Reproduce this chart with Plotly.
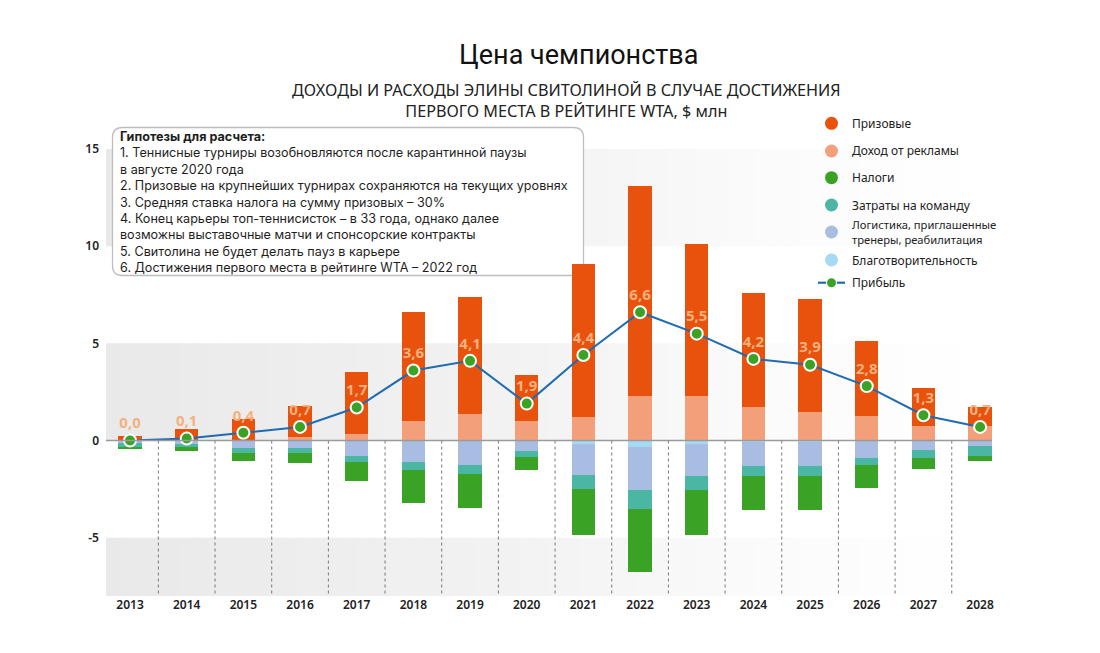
import plotly.graph_objects as go

# ---------------- data ----------------
years = list(range(2013, 2029))
prize = [0.22, 0.60, 1.13, 1.62, 3.21, 5.57, 6.00, 2.36, 7.87, 10.80, 7.83, 5.88, 5.85, 3.87, 1.97, 0.99]
ads = [0.0, 0.0, 0.0, 0.17, 0.34, 1.03, 1.38, 0.99, 1.19, 2.30, 2.30, 1.72, 1.45, 1.26, 0.74, 0.74]
charity = [0, 0, 0, 0, 0, 0, 0, 0, -0.17, -0.34, -0.20, -0.08, -0.06, 0, 0, 0]
logistics = [-0.14, -0.20, -0.38, -0.38, -0.79, -1.10, -1.25, -0.55, -1.62, -2.20, -1.62, -1.22, -1.26, -0.89, -0.48, -0.27]
team = [-0.20, -0.14, -0.26, -0.27, -0.29, -0.41, -0.45, -0.31, -0.70, -1.00, -0.70, -0.51, -0.50, -0.39, -0.43, -0.53]
taxes = [-0.12, -0.22, -0.43, -0.51, -0.99, -1.68, -1.76, -0.65, -2.36, -3.25, -2.36, -1.76, -1.74, -1.16, -0.58, -0.26]
profit = [0.0, 0.1, 0.4, 0.7, 1.7, 3.6, 4.1, 1.9, 4.4, 6.6, 5.5, 4.2, 3.9, 2.8, 1.3, 0.7]
profit_labels = [f"{v:.1f}".replace(".", ",") for v in profit]

y_ticks = [-5, 0, 5, 10, 15]

names = {
    "prize": "Призовые",
    "ads": "Доход от рекламы",
    "taxes": "Налоги",
    "team": "Затраты на команду",
    "logistics": "Логистика, приглашенные<br>тренеры, реабилитация",
    "charity": "Благотворительность",
    "profit": "Прибыль",
}
colors = {
    "prize": "#e8520c",
    "ads": "#f3a07a",
    "taxes": "#3aa325",
    "team": "#4bb6a4",
    "logistics": "#a9bde2",
    "charity": "#a4daf4",
    "line": "#1f6cb0",
    "label": "#f6b07e",
}

title = "Цена чемпионства"
subtitle_lines = ["ДОХОДЫ И РАСХОДЫ ЭЛИНЫ СВИТОЛИНОЙ В СЛУЧАЕ ДОСТИЖЕНИЯ",
                  "ПЕРВОГО МЕСТА В РЕЙТИНГЕ WTA, $ млн"]
notes = [
    "<b>Гипотезы для расчета:</b>",
    "1. Теннисные турниры возобновляются после карантинной паузы",
    "в августе 2020 года",
    "2. Призовые на крупнейших турнирах сохраняются на текущих уровнях",
    "3. Средняя ставка налога на сумму призовых – 30%",
    "4. Конец карьеры топ-теннисисток – в 33 года, однако далее",
    "возможны выставочные матчи и спонсорские контракты",
    "5. Свитолина не будет делать пауз в карьере",
    "6. Достижения первого места в рейтинге WTA – 2022 год",
]

# ---------------- geometry ----------------
W, H = 1100, 653
L, R, T, B = 106, 108, 149, 57
PW, PH = W - L - R, H - T - B
X0, X1 = 2012.576, 2028.21
Y0, Y1 = -8, 15
FONT = "Noto Sans"


def pxx(p):
    return (p - L) / PW


def pxy(p):
    return (H - B - p) / PH


fig = go.Figure()

# bars: positive stack then negative stack
for key, vals in [("ads", ads), ("prize", prize), ("charity", charity),
                  ("logistics", logistics), ("team", team), ("taxes", taxes)]:
    fig.add_trace(go.Bar(
        x=years, y=vals, name=names[key].replace("<br>", " "), width=0.41,
        marker=dict(color=colors[key], line=dict(width=0)),
        showlegend=False, hoverinfo="skip",
    ))

# profit line
fig.add_trace(go.Scatter(
    x=years, y=profit, mode="lines+markers+text", name=names["profit"],
    line=dict(color=colors["line"], width=2),
    marker=dict(color=colors["taxes"], size=12, line=dict(color="white", width=2)),
    text=profit_labels, textposition="top center",
    textfont=dict(family=FONT, size=15, color=colors["label"], weight="bold"),
    showlegend=False,
))

shapes = []
annotations = []


def lerp_color(stops, t):
    for (t0, c0), (t1, c1) in zip(stops[:-1], stops[1:]):
        if t0 <= t <= t1:
            f = 0 if t1 == t0 else (t - t0) / (t1 - t0)
            a = [int(c0[i:i + 2], 16) for i in (1, 3, 5)]
            b = [int(c1[i:i + 2], 16) for i in (1, 3, 5)]
            return "#" + "".join(f"{round(a[k] + (b[k] - a[k]) * f):02x}" for k in range(3))
    return stops[-1][1]


grad = [(0.0, "#e9e9e9"), (0.45, "#f2f2f2"), (0.75, "#fbfbfb"), (1.0, "#ffffff")]
N = 60
for (b0, b1) in [(10, 15), (0, 5), (Y0, -5)]:
    for k in range(N):
        shapes.append(dict(
            type="rect", xref="paper", yref="y", layer="below",
            x0=k / N, x1=(k + 1) / N + 0.002, y0=b0, y1=b1,
            fillcolor=lerp_color(grad, (k + 0.5) / N), line=dict(width=0),
        ))

# rounded note box
bx0, bx1, by0, by1 = pxx(112.5), pxx(583.5), pxy(275.5), pxy(127.5)
rx, ry = 10 / PW, 10 / PH
path = (f"M {bx0 + rx} {by1} L {bx1 - rx} {by1} Q {bx1} {by1} {bx1} {by1 - ry} "
        f"L {bx1} {by0 + ry} Q {bx1} {by0} {bx1 - rx} {by0} "
        f"L {bx0 + rx} {by0} Q {bx0} {by0} {bx0} {by0 + ry} "
        f"L {bx0} {by1 - ry} Q {bx0} {by1} {bx0 + rx} {by1} Z")
shapes.append(dict(type="path", xref="paper", yref="paper", layer="below", path=path,
                   fillcolor="white", line=dict(color="#bdbdbd", width=1.3)))

# dotted separators
for yv in years[:-1]:
    shapes.append(dict(type="line", xref="x", yref="y", layer="above",
                       x0=yv + 0.5, x1=yv + 0.5, y0=0, y1=Y0,
                       line=dict(color="#777777", width=1, dash="dot")))
# zero line
shapes.append(dict(type="line", xref="paper", yref="y", layer="above",
                   x0=0, x1=1, y0=0, y1=0, line=dict(color="#9a9a9a", width=1.3)))

# ---------------- legend (drawn) ----------------
legend_keys = ["prize", "ads", "taxes", "team", "logistics", "charity"]
legend_y = [123.3, 151, 177.7, 205, 232, 260]
LEG_CX, LEG_TX = 831.5, 850
for key, yc in zip(legend_keys, legend_y):
    shapes.append(dict(type="circle", xref="paper", yref="paper",
                       xsizemode="pixel", ysizemode="pixel",
                       xanchor=pxx(LEG_CX), yanchor=pxy(yc),
                       x0=-6.5, x1=6.5, y0=-6.5, y1=6.5,
                       fillcolor=colors[key], line=dict(width=0), layer="above"))
    annotations.append(dict(text=names[key], xref="paper", yref="paper",
                            x=pxx(LEG_TX), y=pxy(yc), xanchor="left", yanchor="middle",
                            align="left", showarrow=False,
                            font=dict(family=FONT, size=12 if "<br>" not in names[key] else 11.2,
                                      color="#222222")))
# profit legend entry
py_prof = 282.7
for (a, b) in [(818, 826), (837, 845)]:
    shapes.append(dict(type="line", xref="paper", yref="paper",
                       x0=pxx(a), x1=pxx(b), y0=pxy(py_prof), y1=pxy(py_prof),
                       line=dict(color=colors["line"], width=2.2), layer="above"))
shapes.append(dict(type="circle", xref="paper", yref="paper",
                   xsizemode="pixel", ysizemode="pixel",
                   xanchor=pxx(LEG_CX), yanchor=pxy(py_prof),
                   x0=-4.5, x1=4.5, y0=-4.5, y1=4.5,
                   fillcolor=colors["taxes"], line=dict(width=0), layer="above"))
annotations.append(dict(text=names["profit"], xref="paper", yref="paper",
                        x=pxx(LEG_TX), y=pxy(py_prof), xanchor="left", yanchor="middle",
                        showarrow=False, font=dict(family=FONT, size=12, color="#222222")))

# ---------------- titles and notes ----------------
annotations.append(dict(text=title, xref="paper", yref="paper", x=pxx(578), y=pxy(55),
                        xanchor="center", yanchor="middle", showarrow=False,
                        font=dict(family="Roboto", size=27, weight=400, color="#111111")))
annotations.append(dict(text="<br>".join(subtitle_lines), xref="paper", yref="paper",
                        x=pxx(566), y=pxy(100.5), xanchor="center", yanchor="middle",
                        showarrow=False, font=dict(family=FONT, size=16.2, color="#222222")))
annotations.append(dict(
    text="<br>".join(notes), xref="paper", yref="paper", x=pxx(118), y=pxy(201.7),
    xanchor="left", yanchor="middle", showarrow=False, align="left",
    font=dict(family="Inter", size=12.6, color="#1e1e1e"),
))

fig.update_layout(
    width=W, height=H,
    margin=dict(l=L, r=R, t=T, b=B, autoexpand=False),
    paper_bgcolor="white", plot_bgcolor="white",
    barmode="relative", bargap=0,
    font=dict(family=FONT, color="#222222"),
    showlegend=False,
    xaxis=dict(range=[X0, X1], tickmode="array", tickvals=years,
               ticktext=[str(y) for y in years], showgrid=False, zeroline=False,
               showline=False, ticks="", tickfont=dict(size=12, weight=600, color="#222222")),
    yaxis=dict(range=[Y0, Y1], tickmode="array", tickvals=y_ticks,
               ticktext=[str(v) for v in y_ticks], showgrid=False, zeroline=False,
               showline=False, ticks="", ticklabelstandoff=6,
               tickfont=dict(size=12, weight=600, color="#222222")),
    shapes=shapes,
    annotations=annotations,
    hovermode=False,
)

fig.write_html("out.html", config={"displayModeBar": False},
               post_script="document.body.style.margin='0';")
